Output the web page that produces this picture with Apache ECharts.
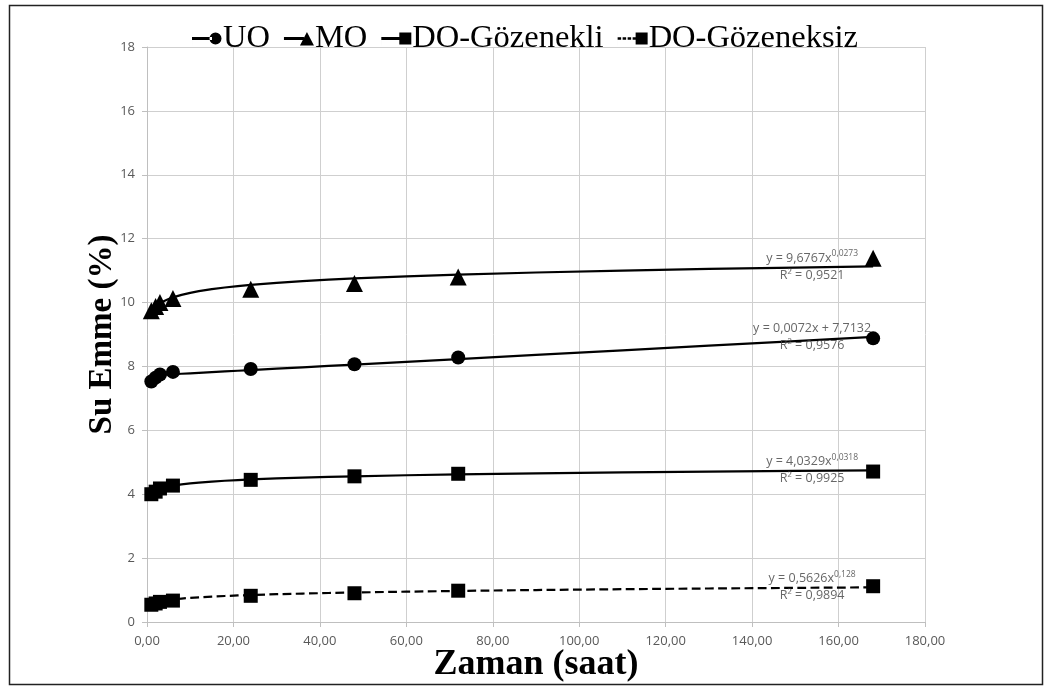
<!DOCTYPE html>
<html>
<head>
<meta charset="utf-8">
<script src="https://cdn.jsdelivr.net/npm/echarts@6/dist/echarts.min.js"></script>
<style>html,body{margin:0;padding:0;background:#fff}#c{width:1050px;height:686px}</style>
</head>
<body>
<div id="c"></div>
<script>
// Time points (saat)
const hours = [1, 2, 3, 6, 24, 48, 72, 168];
// Measured water absorption (%)
const uo = [7.53, 7.65, 7.75, 7.83, 7.92, 8.07, 8.28, 8.88];
const mo = [9.74, 9.88, 10.0, 10.13, 10.42, 10.6, 10.8, 11.39];
const doGozenekli = [4.0, 4.08, 4.18, 4.27, 4.45, 4.56, 4.64, 4.71];
const doGozeneksiz = [0.54, 0.58, 0.63, 0.67, 0.82, 0.9, 0.98, 1.12];
const seriesNames = ['UO', 'MO', 'DO-Gözenekli', 'DO-Gözeneksiz'];
// Trendline coefficients shown on the chart
const uoLinear = [0.0072, 7.7132];       // y = a x + b
const moPower = [9.6767, 0.0273];        // y = a x^b
const dogPower = [4.0329, 0.0318];
const dogsPower = [0.5626, 0.128];
const trendLabels = [
  ['y = 0,0072x + 7,7132', '', 'R² = 0,9576'],
  ['y = 9,6767x', '0,0273', 'R² = 0,9521'],
  ['y = 4,0329x', '0,0318', 'R² = 0,9925'],
  ['y = 0,5626x', '0,128', 'R² = 0,9894']
];
const trendX = [1, 1.5, 2, 3, 4, 5, 6, 8, 10, 12, 15, 18, 21, 24, 30, 36, 42, 48, 60, 72, 90, 110, 130, 150, 168];
const xTicks = {min: 0, max: 180, interval: 20};
const yTicks = {min: 0, max: 18, interval: 2};

const pair = (xs, ys) => xs.map((x, i) => [x, ys[i]]);
const lin = c => trendX.map(x => [x, c[0] * x + c[1]]);
const pow = c => trendX.map(x => [x, c[0] * Math.pow(x, c[1])]);
const trends = [lin(uoLinear), pow(moPower), pow(dogPower), pow(dogsPower)];
const datas = [uo, mo, doGozenekli, doGozeneksiz];
const symbols = ['circle', 'triangle', 'rect', 'rect'];
const sizes = [14, 17, 14, 14];
const dashes = ['solid', 'solid', 'solid', 'dashed'];

// legend icons: short line + marker on the right
const lineSolid = 'M0 5.6 H20 V8.4 H0 Z ';
const lineDash = 'M0 5.8 H3.5 V8.2 H0 Z M5 5.8 H8.5 V8.2 H5 Z M10 5.8 H13.5 V8.2 H10 Z M15 5.8 H18.5 V8.2 H15 Z ';
const legendIcons = [
  'path://' + lineSolid + 'M17.5 7 A6 6 0 1 0 29.5 7 A6 6 0 1 0 17.5 7 Z M0 0 H0.01 V14 H0 Z M30 0 H30.01 V14 H30 Z',
  'path://' + lineSolid + 'M16 14 L23 0.5 L30 14 Z M0 0 H0.01 V0.01 H0 Z',
  'path://' + lineSolid + 'M18 1 H30 V13 H18 Z M0 0 H0.01 V14 H0 Z',
  'path://' + lineDash + 'M18 1 H30 V13 H18 Z M0 0 H0.01 V14 H0 Z'
];

const chart = echarts.init(document.getElementById('c'));
const series = [];
trends.forEach((t, i) => {
  series.push({
    type: 'line', name: 'trend' + i, data: t, showSymbol: false, symbol: 'none', smooth: false,
    lineStyle: {color: '#000', width: 2.2, type: dashes[i]}, z: 2, silent: true
  });
  const lab = trendLabels[i];
  const text = lab[1] ? `{a|${lab[0]}}{s|${lab[1]}}\n{a|${lab[2]}}` : `{a|${lab[0]}}\n{a|${lab[2]}}`;
  series.push({
    type: 'scatter', name: 'label' + i, data: [t[t.length - 1]],
    symbol: 'circle', symbolSize: 2, silent: true, z: 4,
    itemStyle: {color: 'rgba(0,0,0,0)'},
    label: {
      show: true, position: 'left', distance: 60, align: 'center', verticalAlign: 'middle',
      formatter: text,
      rich: {
        a: {fontFamily: 'Open Sans', fontSize: 12.5, color: '#404040', lineHeight: 17},
        s: {fontFamily: 'Open Sans', fontSize: 8.5, color: '#404040', verticalAlign: 'top', lineHeight: 17, padding: [0, 0, 6, 0]}
      }
    }
  });
});
datas.forEach((ys, i) => {
  series.push({
    type: 'line', name: seriesNames[i], data: pair(hours, ys),
    symbol: symbols[i], symbolSize: sizes[i], showSymbol: true,
    itemStyle: {color: '#000'}, lineStyle: {opacity: 0, width: 0}, z: 3
  });
});

chart.setOption({
  animation: false,
  backgroundColor: '#fff',
  grid: {left: 147, right: 125, top: 47, bottom: 64, outerBoundsMode: 'none', containLabel: false},
  legend: {
    top: 17, left: 'center', itemWidth: 30, itemHeight: 14, itemGap: 14,
    data: seriesNames.map((n, i) => ({name: n, icon: legendIcons[i], itemStyle: {color: '#000'}})),
    textStyle: {fontFamily: 'Liberation Serif', fontSize: 32.5, color: '#000', padding: [0, 0, 0, -4]}
  },
  xAxis: {
    type: 'value', min: xTicks.min, max: xTicks.max, interval: xTicks.interval,
    name: 'Zaman (saat)', nameLocation: 'middle', nameGap: 25, nameMoveOverlap: false,
    nameTextStyle: {fontFamily: 'Liberation Serif', fontWeight: 'bold', fontSize: 36, color: '#000'},
    axisLine: {show: true, lineStyle: {color: '#bfbfbf'}},
    axisTick: {show: true, length: 5, lineStyle: {color: '#bfbfbf'}},
    axisLabel: {fontFamily: 'Open Sans', fontSize: 13, color: '#595959', margin: 13,
      formatter: v => v.toFixed(2).replace('.', ',')},
    splitLine: {show: true, lineStyle: {color: '#cfcfcf'}}
  },
  yAxis: {
    type: 'value', min: yTicks.min, max: yTicks.max, interval: yTicks.interval,
    name: 'Su Emme (%)', nameLocation: 'middle', nameGap: 28, nameRotate: 90, nameMoveOverlap: false,
    nameTextStyle: {fontFamily: 'Liberation Serif', fontWeight: 'bold', fontSize: 33, color: '#000'},
    axisLine: {show: true, lineStyle: {color: '#bfbfbf'}},
    axisTick: {show: true, length: 5, lineStyle: {color: '#bfbfbf'}},
    axisLabel: {fontFamily: 'Open Sans', fontSize: 13, color: '#595959', margin: 12},
    splitLine: {show: true, lineStyle: {color: '#cfcfcf'}}
  },
  graphic: [{
    type: 'rect', left: 7, top: 3, silent: true,
    shape: {width: 1033, height: 679},
    style: {fill: 'none', stroke: '#222', lineWidth: 1.5}
  }],
  series: series
});
</script>
</body>
</html>
